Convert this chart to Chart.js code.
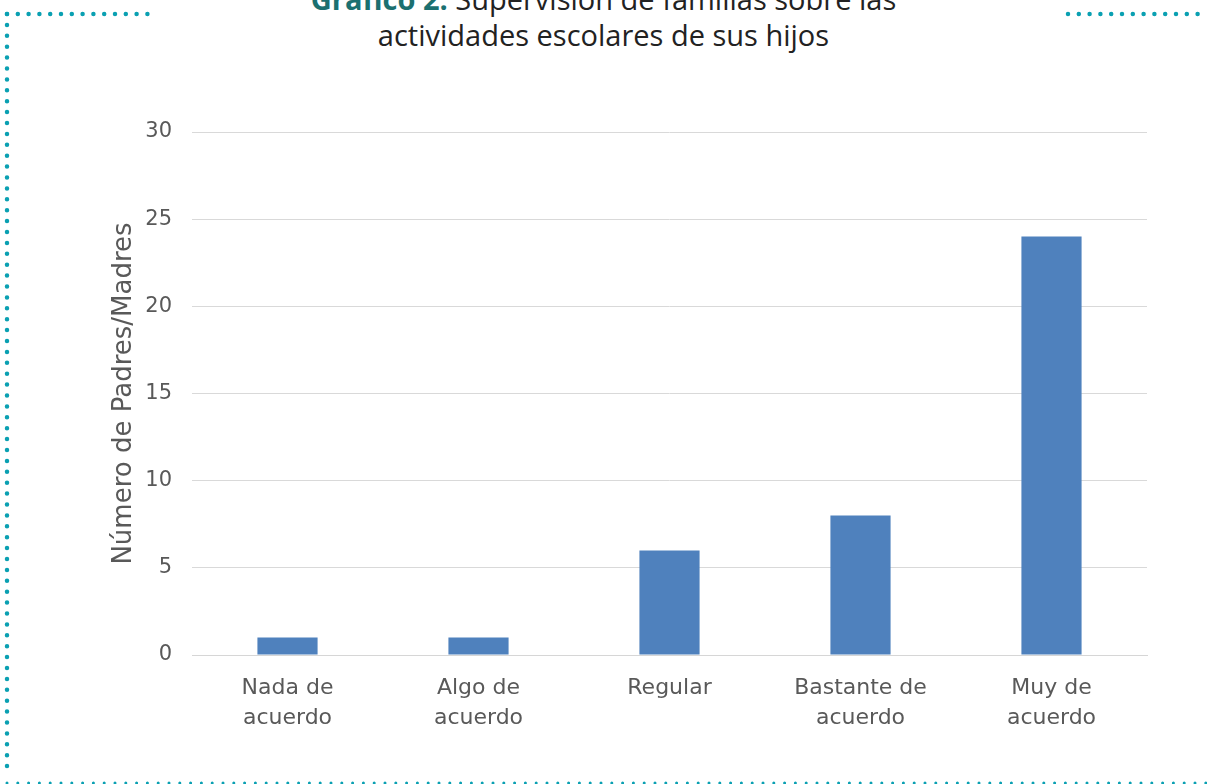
<!DOCTYPE html>
<html><head><meta charset="utf-8">
<script src="https://cdn.jsdelivr.net/npm/chart.js@4"></script>
<style>
html,body{margin:0;padding:0;background:#fff;}
#wrap{position:relative;width:1207px;height:784px;overflow:hidden;}
#c{position:absolute;left:0;top:0;}
#deco{position:absolute;left:0;top:0;}
#title{position:absolute;left:0;width:1207px;top:-19px;text-align:center;font-family:"Open Sans",sans-serif;font-size:29px;line-height:36px;color:#222;}
#title b{color:#1b7070;font-weight:700;}
</style></head><body>
<div id="wrap">
<svg id="deco" width="1207" height="784">
<g stroke="#0aa0b2" stroke-linecap="round" fill="none">
<line x1="7" y1="14" x2="157" y2="14" stroke-width="4.5" stroke-dasharray="0 10.8"/>
<line x1="7" y1="14" x2="7" y2="776" stroke-width="4.5" stroke-dasharray="0 10.9"/>
<line x1="1068" y1="14" x2="1207" y2="14" stroke-width="4.5" stroke-dasharray="0 10.8"/>
<line x1="7" y1="783" x2="1207" y2="783" stroke-width="3" stroke-dasharray="0 10.8"/>
</g>
</svg>
<div id="title"><b>Gráfico 2.</b> Supervisión de familias sobre las<br>actividades escolares de sus hijos</div>
<canvas id="c" width="1207" height="784"></canvas>
</div>
<script>
const categories = [["Nada de","acuerdo"],["Algo de","acuerdo"],["Regular"],["Bastante de","acuerdo"],["Muy de","acuerdo"]];
const values = [1, 1, 6, 8, 24];
const yTicks = [0, 5, 10, 15, 20, 25, 30];
const yTitle = "Número de Padres/Madres";

new Chart(document.getElementById('c'), {
  type: 'bar',
  data: {
    labels: categories,
    datasets: [{
      data: values,
      backgroundColor: '#4f81bd',
      borderWidth: 0,
      barPercentage: 1,
      categoryPercentage: 0.315
    }]
  },
  options: {
    responsive: false,
    animation: false,
    layout: { padding: { left: 109, right: 60, top: 132, bottom: 0 } },
    plugins: { legend: { display: false }, tooltip: { enabled: false } },
    scales: {
      x: {
        grid: { display: false },
        border: { display: true, color: '#d6d6d6', width: 1 },
        ticks: { color: '#595959', font: { family: 'DejaVu Sans', size: 22, weight: 'normal', lineHeight: 1.36 }, padding: 10, maxRotation: 0 },
        afterFit: s => { s.height = 129; }
      },
      y: {
        min: 0, max: 30,
        afterBuildTicks: s => { s.ticks = yTicks.map(v => ({ value: v })); },
        grid: { color: '#d9d9d9', drawTicks: false, lineWidth: 1 },
        border: { display: false },
        ticks: { color: '#595959', font: { family: 'DejaVu Sans', size: 21 }, padding: 20 },
        title: { display: true, text: yTitle, color: '#595959', font: { family: 'DejaVu Sans', size: 26 }, padding: { top: 0, bottom: 10 } },
        afterFit: s => { s.width = 83; }
      }
    }
  }
});
</script>
</body></html>
